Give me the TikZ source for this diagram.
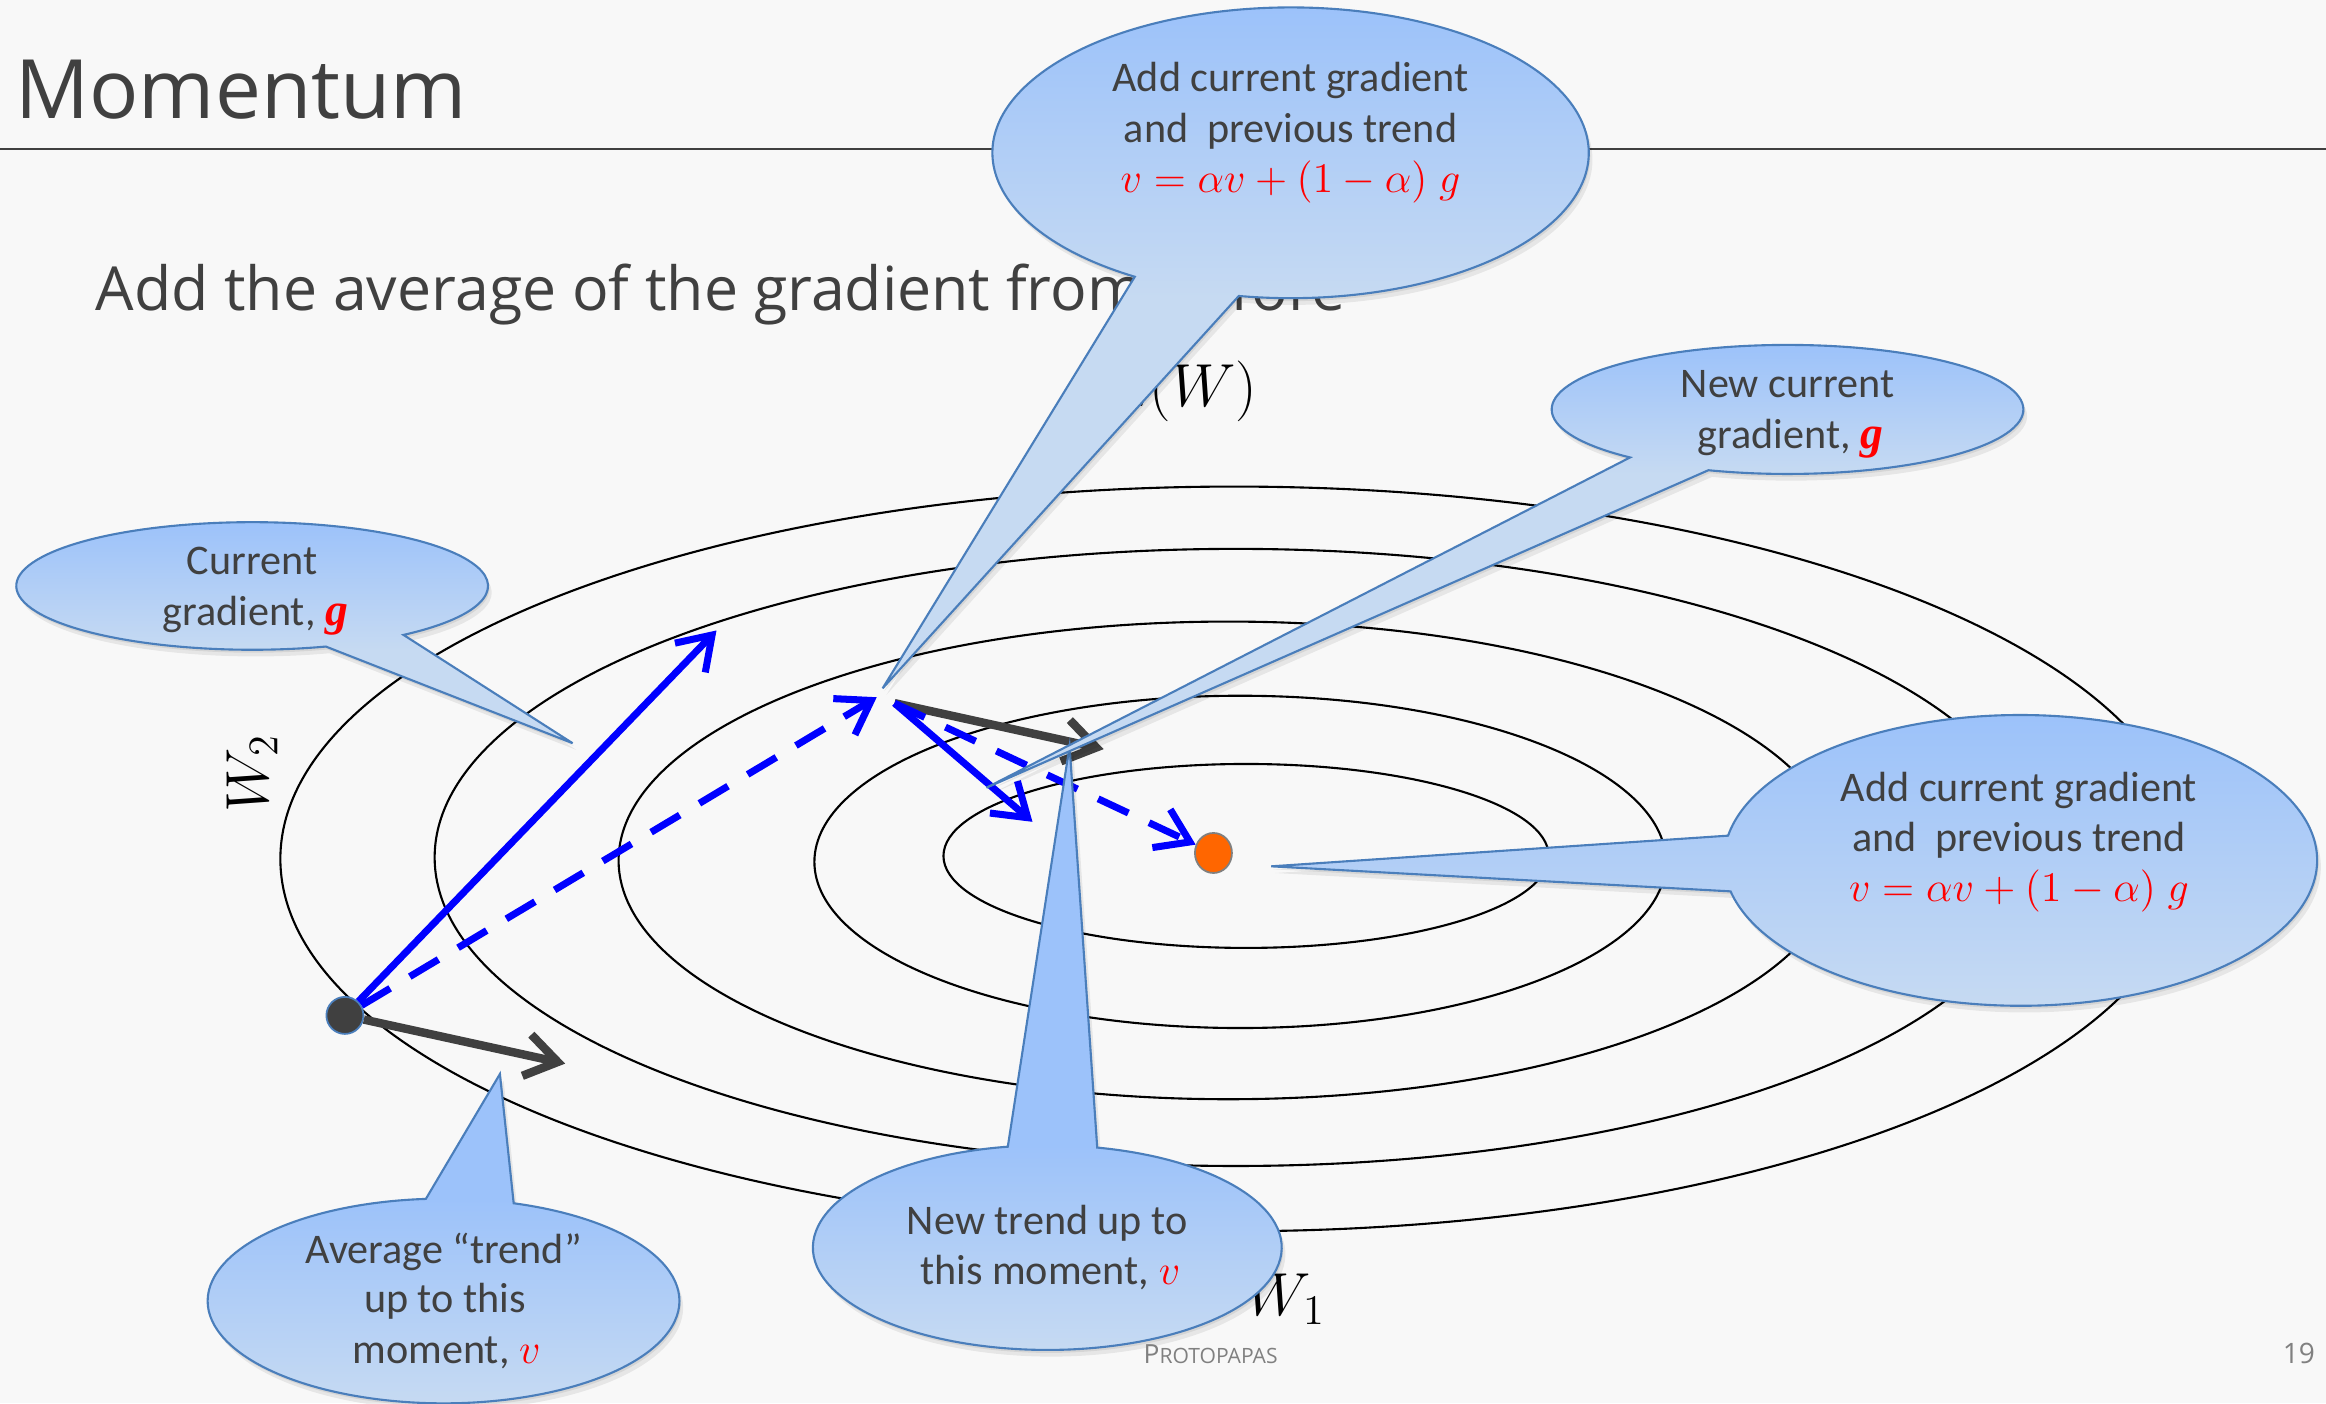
\documentclass[tikz,border=0pt]{standalone}
\usepackage[no-math]{fontspec}
\setmainfont{Carlito}
\newfontfamily\titlefont{Open Sans}
\newfontfamily\serifbi{Liberation Serif}
\usetikzlibrary{arrows.meta,shapes.geometric}
\definecolor{bg}{HTML}{F8F8F8}
\definecolor{txt}{HTML}{404040}
\definecolor{btop}{HTML}{9CC2FA}
\definecolor{bbot}{HTML}{C6DAF2}
\definecolor{bedge}{HTML}{4A7EBB}
\definecolor{orangept}{HTML}{FF6600}
\definecolor{foot}{HTML}{808080}

\tikzset{
  contour/.style={draw=black, line width=0.6pt},
  bluearrow/.style={draw=blue, line width=2pt, -{Straight Barb[length=9pt,width=12pt]}},
  bluedash/.style={bluearrow, dash pattern=on 9.5pt off 6.5pt},
  grayarrow/.style={draw=txt, line width=2.4pt, -{Straight Barb[length=9pt,width=12pt]}},
  btext/.style={anchor=base, inner sep=0pt, text=txt, font=\fontsize{12}{14}\selectfont},
  axislabel/.style={inner sep=0pt, text=black, font=\fontsize{18}{21}\selectfont},
}

% #1 cx, #2 cy, #3 rx, #4 ry, #5 start angle, #6 end angle, #7 tip x, #8 tip y
\newcommand\bubble[8]{%
  \fill[black, opacity=0.07, shift={(1,2)}] (#7,#8) -- ([shift={(#1,#2)}]#5:#3 and #4) arc[start angle=#5, end angle=#6, x radius=#3, y radius=#4] -- cycle;
  \fill[black, opacity=0.07, shift={(2.5,4.5)}] (#7,#8) -- ([shift={(#1,#2)}]#5:#3 and #4) arc[start angle=#5, end angle=#6, x radius=#3, y radius=#4] -- cycle;
  \begin{scope}
    \clip (#7,#8) -- ([shift={(#1,#2)}]#5:#3 and #4) arc[start angle=#5, end angle=#6, x radius=#3, y radius=#4] -- cycle;
    \fill[btop] (#1-#3-700,#2-#4-700) rectangle (#1+#3+700,#2+#4+700);
    \fill[bbot] (#1-#3-700,#2+#4-1) rectangle (#1+#3+700,#2+#4+700);
    \shade[top color=btop, bottom color=bbot] (#1-#3-700,#2-#4) rectangle (#1+#3+700,#2+#4);
  \end{scope}
  \draw[bedge, line width=0.6pt] (#7,#8) -- ([shift={(#1,#2)}]#5:#3 and #4) arc[start angle=#5, end angle=#6, x radius=#3, y radius=#4] -- cycle;
}
\newcommand\redg{\textcolor{red}{\fontsize{13}{14}\selectfont\serifbi\bfseries\itshape g}}
\newcommand\redv{\textcolor{red}{\fontsize{13}{14}\selectfont$v$}}
\newcommand\formula{\textcolor{red}{\fontsize{12.5}{14}\selectfont$v=\alpha v+(1-\alpha)\;g$}}

\begin{document}
\begin{tikzpicture}[x=0.0148342cm, y=-0.0148342cm]
\fill[bg] (0,0) rectangle (1568,946);
\useasboundingbox (0,0) rectangle (1568,946);

% header
\node[anchor=base west, inner sep=0pt, text=txt, font=\titlefont\fontsize{23.3}{27}\selectfont] (title) at (10,80) {Momentum};
\draw[txt, line width=0.6pt] (0,100.5) coordinate (rulel) -- (1568,100.5) coordinate (ruler);
\node[anchor=base west, inner sep=0pt, text=txt, font=\titlefont\fontsize{17.3}{20}\selectfont] (sub) at (64,209) {Add the average of the gradient from before};

% axis labels
\node[axislabel, anchor=base east] (lw) at (848,274) {$L(W)$};
\node[axislabel, rotate=90] (w2) at (170,521) {$W_2$};
\node[axislabel] (w1) at (867,876) {$W_1$};

% contours
\draw[contour] (832,579) ellipse [x radius=643, y radius=251];
\draw[contour] (833,578) ellipse [x radius=540, y radius=208];
\draw[contour] (828,580) ellipse [x radius=411, y radius=161];
\draw[contour] (836,581) ellipse [x radius=287, y radius=112];
\draw[contour] (840,577) ellipse [x radius=204, y radius=62];

% points
\node[circle, fill=txt, draw=bedge, line width=0.5pt, minimum size=0.37cm, inner sep=0pt] (p0) at (232.5,684.5) {};
\node[ellipse, fill=orangept, draw=gray, line width=0.5pt, minimum width=0.37cm, minimum height=0.40cm, inner sep=0pt] (goal) at (818,575) {};
\coordinate (g1) at (483,425);
\coordinate (p1a) at (591,470);
\coordinate (p1) at (603,474);
\coordinate (v0) at (381,717);
\coordinate (v1) at (744,505);
\coordinate (g2) at (696,554);

% arrows
\draw[bluedash] (p0) -- (p1a);
\draw[bluearrow] (p0) -- (g1);
\draw[grayarrow] (p0) -- (v0);
\draw[grayarrow] (p1) -- (v1);
\draw[bluearrow] (p1) -- (g2);
\draw[bluedash] (p1) -- (goal);

% callouts
\bubble{170}{395}{159}{43}{71.8}{410.1}{386}{501}
\node[btext] (c1) at (170,387) {Current};
\node[btext] (c2) at (172,421.5) {gradient, \redg};

\bubble{299}{877}{159}{69}{287.3}{625.7}{337}{724}
\node[btext] (d1) at (299,851.5) {Average “trend”};
\node[btext] (d2) at (300,885) {up to this};
\node[btext] (d3) at (301,919) {moment, \redv};

\bubble{706}{841}{158}{69}{282.3}{620.3}{721}{503}
\node[btext] (e1) at (706,832.5) {New trend up to};
\node[btext] (e2) at (708,866) {this moment, \redv};

\bubble{870}{103}{201}{98}{121.5}{460}{595}{464}
\node[btext] (a1) at (870,62) {Add current gradient};
\node[btext] (a2) at (870,96) {and~ previous trend};
\node[btext] (a3) at (870,130) {\formula};

\bubble{1362}{580}{200}{98}{189.8}{527.7}{857}{584}
\node[btext] (f1) at (1361,540) {Add current gradient};
\node[btext] (f2) at (1361,574) {and~ previous trend};
\node[btext] (f3) at (1361,608) {\formula};

\bubble{1205}{276}{159}{43.5}{131.9}{469.6}{665}{531}
\node[btext] (b1) at (1205,268) {New current};
\node[btext] (b2) at (1207,302.5) {gradient, \redg};

% footer
\node[anchor=base west, inner sep=0pt, text=foot, font=\titlefont] (foot) at (770.5,919) {\fontsize{7.5}{9}\selectfont P\fontsize{6}{7}\selectfont ROTOPAPAS};
\node[anchor=base east, inner sep=0pt, text=foot, font=\titlefont\fontsize{8}{9}\selectfont] (page) at (1561,919) {19};
\end{tikzpicture}
\end{document}
